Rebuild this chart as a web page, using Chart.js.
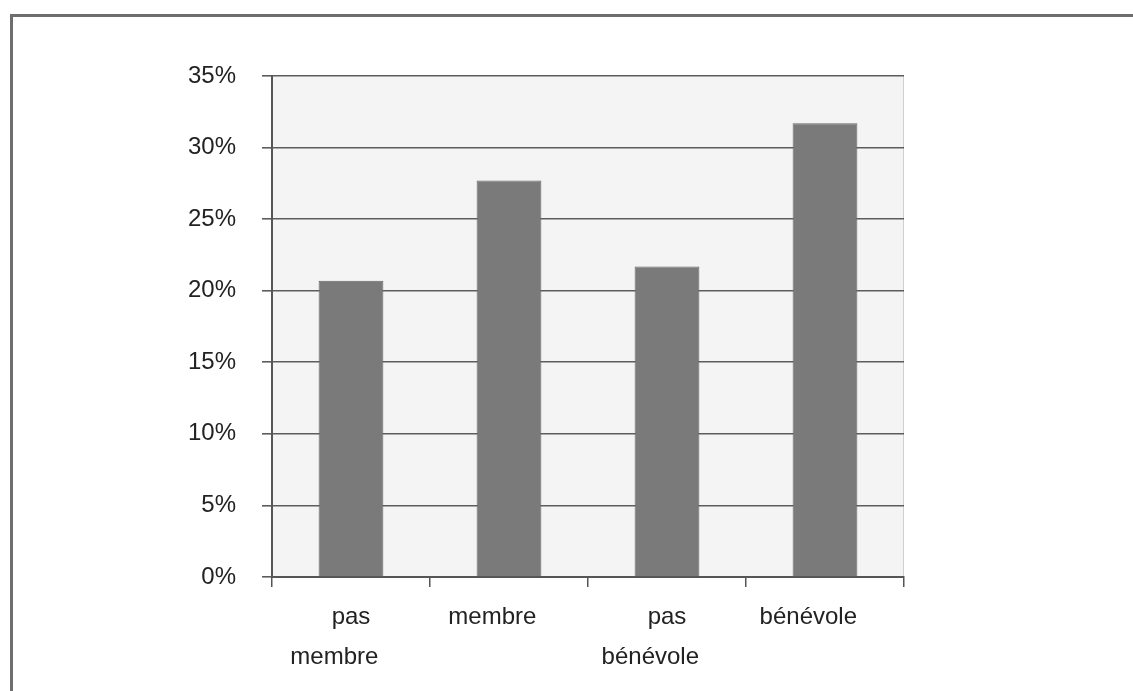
<!DOCTYPE html>
<html>
<head>
<meta charset="utf-8">
<script src="https://cdn.jsdelivr.net/npm/chart.js@4/dist/chart.umd.min.js"></script>
<style>
  html, body { margin: 0; padding: 0; background: #ffffff; }
  #wrap { width: 1133px; height: 691px; position: relative; }
</style>
</head>
<body>
<div id="wrap"><canvas id="c" width="1133" height="691"></canvas></div>
<script>
// Share of respondents, by membership / volunteering status
// (trailing spaces nudge the longer words slightly left of the bar centre)
const categories = [['pas', 'membre     '], 'membre     ', ['pas', 'bénévole     '], 'bénévole     '];
const shares = [20.7, 27.7, 21.7, 31.7];
const yTicks = [0, 5, 10, 15, 20, 25, 30, 35];

// Light plot background, a thin edge on the right and the outer frame lines
const framePlugin = {
  id: 'frame',
  beforeDraw(chart) {
    const { ctx, chartArea: a } = chart;
    ctx.save();
    ctx.fillStyle = '#f4f4f4';
    ctx.fillRect(a.left, a.top, a.right - a.left, a.bottom - a.top);
    ctx.strokeStyle = '#d0d0d0';
    ctx.lineWidth = 1;
    ctx.beginPath();
    ctx.moveTo(a.right - 0.5, a.top);
    ctx.lineTo(a.right - 0.5, a.bottom);
    ctx.stroke();
    ctx.strokeStyle = '#6e6e6e';
    ctx.lineWidth = 3;
    ctx.beginPath();
    ctx.moveTo(11.5, 691);
    ctx.lineTo(11.5, 15.5);
    ctx.lineTo(1133, 15.5);
    ctx.stroke();
    ctx.restore();
  }
};

new Chart(document.getElementById('c'), {
  type: 'bar',
  data: {
    labels: categories,
    datasets: [{
      data: shares,
      backgroundColor: '#7a7a7a',
      borderColor: '#686868',
      borderWidth: 1,
      barPercentage: 0.41,
      categoryPercentage: 1
    }]
  },
  options: {
    responsive: false,
    animation: false,
    layout: { padding: { left: 0, top: 76, right: 229, bottom: 0 } },
    plugins: { legend: { display: false }, tooltip: { enabled: false } },
    scales: {
      x: {
        offset: true,
        grid: {
          offset: true,
          drawOnChartArea: false,
          drawTicks: true,
          tickLength: 10,
          color: '#555555',
          lineWidth: 1.5
        },
        border: { display: true, color: '#555555', width: 2 },
        ticks: {
          color: '#222222',
          font: { family: 'Liberation Sans, Arial, sans-serif', size: 24, lineHeight: 1.667 },
          padding: 10,
          maxRotation: 0,
          autoSkip: false
        },
        afterFit(scale) { scale.height = 114; }
      },
      y: {
        min: 0,
        max: 35,
        afterBuildTicks(scale) { scale.ticks = yTicks.map(v => ({ value: v })); },
        grid: {
          color: '#5c5c5c',
          lineWidth: 1.6,
          tickLength: 10
        },
        border: { display: true, color: '#555555', width: 2 },
        ticks: {
          color: '#222222',
          font: { family: 'Liberation Sans, Arial, sans-serif', size: 24 },
          padding: 26,
          callback: v => v + '%'
        },
        afterFit(scale) { scale.width = 272; }
      }
    }
  },
  plugins: [framePlugin]
});
</script>
</body>
</html>
